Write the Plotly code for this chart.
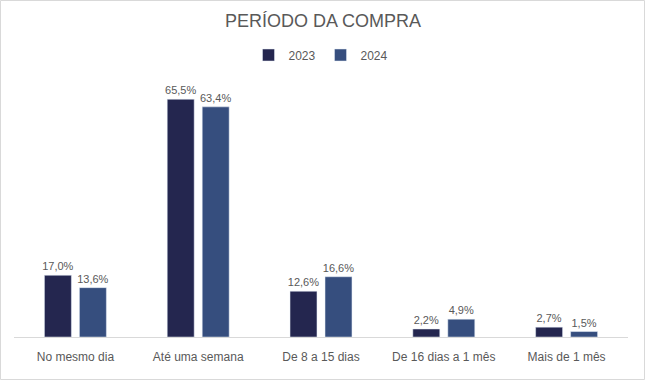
import plotly.graph_objects as go

categories = ["No mesmo dia", "Até uma semana", "De 8 a 15 dias", "De 16 dias a 1 mês", "Mais de 1 mês"]
values_2023 = [17.0, 65.5, 12.6, 2.2, 2.7]
values_2024 = [13.6, 63.4, 16.6, 4.9, 1.5]
series_names = ["2023", "2024"]
colors = ["#24264F", "#364E7E"]

def fmt(v):
    return f"{v:.1f}%".replace(".", ",")

fig = go.Figure()
for name, vals, col in zip(series_names, [values_2023, values_2024], colors):
    fig.add_trace(go.Bar(
        x=categories, y=vals, name=name, marker_color=col,
        text=[fmt(v) for v in vals], textposition="outside", constraintext="none",
        textfont=dict(color="#595959", size=11), cliponaxis=False,
    ))

W, H = 646, 381
l, r, t, b = 14, 18, 80, 44
pw, ph = W - l - r, H - t - b

fig.update_layout(
    width=W, height=H,
    margin=dict(l=l, r=r, t=t, b=b, autoexpand=False),
    paper_bgcolor="white", plot_bgcolor="white",
    font=dict(family="Liberation Sans, Arial, sans-serif", color="#595959"),
    title=dict(text="PERÍODO DA COMPRA", x=0.5, xanchor="center", y=1 - 21 / H, yanchor="middle",
               font=dict(size=18, color="#595959")),
    legend=dict(orientation="h", x=0.5, xanchor="center", y=(337 - 55) / ph, yanchor="middle",
                yref="paper", font=dict(size=12, color="#595959"), itemwidth=30),
    barmode="group", bargap=0.43, bargroupgap=0.23,
    showlegend=True,
    xaxis=dict(showline=True, linecolor="#d9d9d9", linewidth=1, ticks="", showgrid=False,
               automargin=False, ticklabelstandoff=9, tickfont=dict(size=12, color="#595959")),
    yaxis=dict(visible=False, range=[0, 70.8], showgrid=False),
)
fig.add_shape(type="rect", xref="paper", yref="paper",
              x0=(0.5 - l) / pw, x1=(W - 1.5 - l) / pw,
              y0=(337 - (H - 1.5)) / ph, y1=(337 - 0.5) / ph,
              line=dict(color="#d9d9d9", width=1), fillcolor="rgba(0,0,0,0)", layer="below")

fig.write_html("out.html", config={"displayModeBar": False},
               post_script="document.body.style.margin='0';document.body.style.overflow='hidden';")
